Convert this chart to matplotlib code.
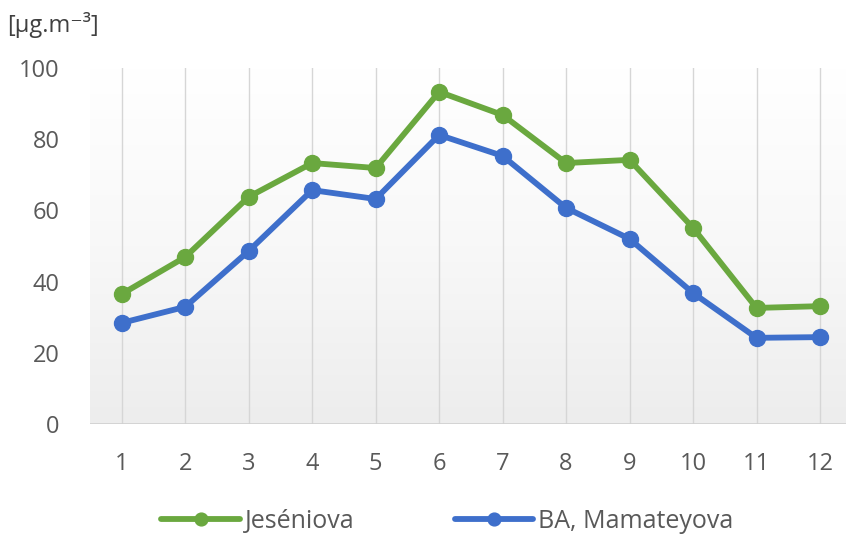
import numpy as np
import matplotlib
matplotlib.use("Agg")
import matplotlib.pyplot as plt
from matplotlib.colors import LinearSegmentedColormap

plt.rcParams["font.family"] = ["Open Sans", "DejaVu Sans"]

months = [1, 2, 3, 4, 5, 6, 7, 8, 9, 10, 11, 12]
jeseniova = [36.5, 46.9, 63.8, 73.3, 71.9, 93.3, 86.8, 73.3, 74.2, 55.1, 32.6, 33.1]
mamateyova = [28.4, 32.9, 48.6, 65.7, 63.2, 81.2, 75.3, 60.7, 52.0, 36.8, 24.2, 24.4]
yticks = [0, 20, 40, 60, 80, 100]

GREEN = "#6aa83f"
BLUE = "#3e6fcb"
TEXT = "#595959"

fig = plt.figure(figsize=(8.46, 5.41), dpi=100)
ax = fig.add_axes([0.1064, 0.2163, 0.8936, 0.658])

# soft white -> light grey fill behind the plot area
grad = LinearSegmentedColormap.from_list("bg", ["#ededed", "#f8f8f8", "#ffffff"])
ax.imshow(np.linspace(0, 1, 256).reshape(-1, 1), cmap=grad, aspect="auto",
          extent=[0, 1, 0, 1], transform=ax.transAxes, origin="lower", zorder=0)

for m in months:
    ax.axvline(m, color="#d6d6d6", lw=1.0, zorder=1)
ax.axhline(0, color="#cfcfcf", lw=1.2, zorder=1)

ax.plot(months, jeseniova, color=GREEN, lw=4.2, marker="o", ms=11.5,
        label="Jeséniova", zorder=3, solid_capstyle="round")
ax.plot(months, mamateyova, color=BLUE, lw=4.2, marker="o", ms=11.5,
        label="BA, Mamateyova", zorder=3, solid_capstyle="round")

ax.set_xlim(0.5, 12.41)
ax.set_ylim(0, 100)
ax.set_xticks(months)
ax.set_yticks(yticks)
ax.tick_params(axis="both", length=0, labelsize=17, labelcolor=TEXT)
ax.tick_params(axis="x", pad=20)
ax.tick_params(axis="y", pad=22)
for s in ax.spines.values():
    s.set_visible(False)

fig.text(0.009, 0.953, "[µg.m⁻³]", fontsize=17, color="#404040",
         ha="left", va="center")

fig.legend(loc="center", bbox_to_anchor=(0.529, 0.036), ncol=2, frameon=False,
           fontsize=18, labelcolor=TEXT, handlelength=3.15, handletextpad=0.2,
           columnspacing=4.0, markerscale=0.8)

fig.savefig("out.png", dpi=100)
